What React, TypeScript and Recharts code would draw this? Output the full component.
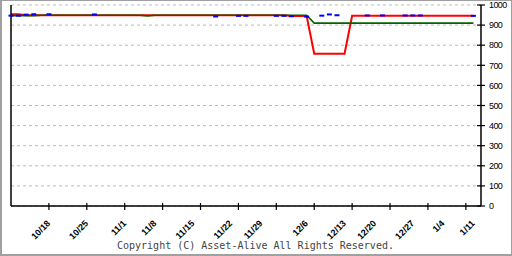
import { LineChart, Line, XAxis, YAxis, CartesianGrid } from "recharts";

// trading-day index 0 = 10/11 ... 61 = 1/11
const LABEL_POS = [5, 10, 15, 19, 24, 29, 33, 39, 44, 48, 53, 57, 61];
const LABEL_TEXT = ["10/18", "10/25", "11/1", "11/8", "11/15", "11/22", "11/29", "12/6", "12/13", "12/20", "12/27", "1/4", "1/11"];
const TICK_MARKS = [5, 10, 15, 20, 25, 30, 35, 40, 45, 50, 55, 60];
const Y_TICKS = [0, 100, 200, 300, 400, 500, 600, 700, 800, 900, 1000];

const RED = [
  954, 954, 949, 949, 949, 949, 949, 949, 949, 949,
  949, 949, 949, 949, 949, 949, 949, 949, 949, 949,
  949, 949, 949, 949, 949, 949, 949, 949, 949, 949,
  949, 949, 949, 949, 949, 949, 949, 945, 945, 945,
  758, 758, 758, 758, 758, 946, 946, 946, 946, 946,
  946, 946, 946, 946, 946, 946, 946, 946, 946, 946,
  946, 946,
];

const GREEN = [
  947, 947, 947, 947, 949, 949, 949, 949, 949, 949,
  949, 949, 949, 949, 949, 949, 949, 949, 946, 949,
  949, 949, 949, 949, 949, 949, 949, 949, 949, 949,
  949, 949, 949, 949, 949, 949, 949, 949, 949, 949,
  910, 910, 910, 910, 910, 910, 910, 910, 910, 910,
  910, 910, 910, 910, 910, 910, 910, 910, 910, 910,
  910, 910,
];

const BLUE = [
  947, 947, 952, 954, null, 954, null, null, null, null,
  null, 953, null, null, null, null, null, null, null, null,
  null, null, null, null, null, null, null, 943, null, null,
  946, 946, null, null, null, 946, 946, 944, null, 942,
  null, 947, 953, 949, null, null, null, 948, null, 948,
  null, null, 948, 948, 948, null, null, null, null, null,
  null, 946,
];

const data = RED.map((r, i) => ({ i, red: r, green: GREEN[i], blue: BLUE[i] }));

const XTick = (props: any) => {
  const { x, y, payload } = props;
  const v = payload.value;
  const li = LABEL_POS.indexOf(v);
  return (
    <g>
      {TICK_MARKS.includes(v) && <line x1={x} x2={x} y1={y - 3} y2={y + 4} stroke="#000" strokeWidth={1.2} />}
      {li >= 0 && (
        <text x={x + 2} y={y + 18} transform={`rotate(-45, ${x + 2}, ${y + 18})`} textAnchor="end"
          fontFamily="Liberation Sans" fontSize={9} fontWeight="bold" fill="#000">
          {LABEL_TEXT[li]}
        </text>
      )}
    </g>
  );
};

const YTick = (props: any) => {
  const { x, y, payload } = props;
  return (
    <g>
      <line x1={x - 4} x2={x + 4} y1={y} y2={y} stroke="#000" strokeWidth={1.2} />
      <text x={x + 8} y={y} dy={3.2} fontFamily="Liberation Sans" fontSize={9} letterSpacing={-0.6} fill="#000">
        {payload.value}
      </text>
    </g>
  );
};

const BlueDash = (props: any) => {
  const { cx, cy, index } = props;
  if (cx == null || cy == null || props.value == null) return <g key={index} />;
  return <rect key={index} x={cx - 2.5} y={cy - 1} width={5} height={2} fill="#0000ff" />;
};

export default function App() {
  return (
    <div style={{ position: "absolute", left: 0, top: 0, width: 512, height: 256, background: "#fff" }}>
      <LineChart width={512} height={256} data={data} margin={{ top: 5, right: 0, bottom: 0, left: 10 }}>
        <CartesianGrid vertical={false} strokeDasharray="3 3" stroke="#bbbbbb" />
        <XAxis dataKey="i" type="number" domain={[0, 62]} ticks={[...new Set([...TICK_MARKS, ...LABEL_POS])].sort((a, b) => a - b)}
          interval={0} tickSize={0} tickMargin={0} height={50} tickLine={false}
          axisLine={{ stroke: "#000", strokeWidth: 1.5 }} tick={XTick} />
        <YAxis yAxisId="left" orientation="left" width={1} domain={[0, 1000]} tick={false} tickLine={false}
          axisLine={{ stroke: "#000", strokeWidth: 1.5 }} />
        <YAxis orientation="right" width={31} domain={[0, 1000]} ticks={Y_TICKS} interval={0}
          tickSize={0} tickMargin={0} tickLine={false} axisLine={{ stroke: "#000", strokeWidth: 1.5 }} tick={YTick} />
        <Line dataKey="blue" stroke="none" dot={BlueDash} activeDot={false} isAnimationActive={false} />
        <Line dataKey="red" stroke="#ff0000" strokeWidth={2} dot={false} activeDot={false} isAnimationActive={false} />
        <Line dataKey="green" stroke="#006400" strokeWidth={1.6} dot={false} activeDot={false} isAnimationActive={false} />
      </LineChart>
      <div style={{ position: "absolute", left: 117, top: 240.5, fontFamily: "DejaVu Sans Mono", fontSize: 10, lineHeight: "10px", color: "#444", whiteSpace: "nowrap" }}>
        Copyright (C) Asset-Alive All Rights Reserved.
      </div>
      <div style={{ position: "absolute", left: 0, top: 0, width: 512, height: 256, boxSizing: "border-box", borderStyle: "solid", borderColor: "#a0a0a0", borderWidth: "1px 1px 2px 2px", pointerEvents: "none" }} />
    </div>
  );
}
